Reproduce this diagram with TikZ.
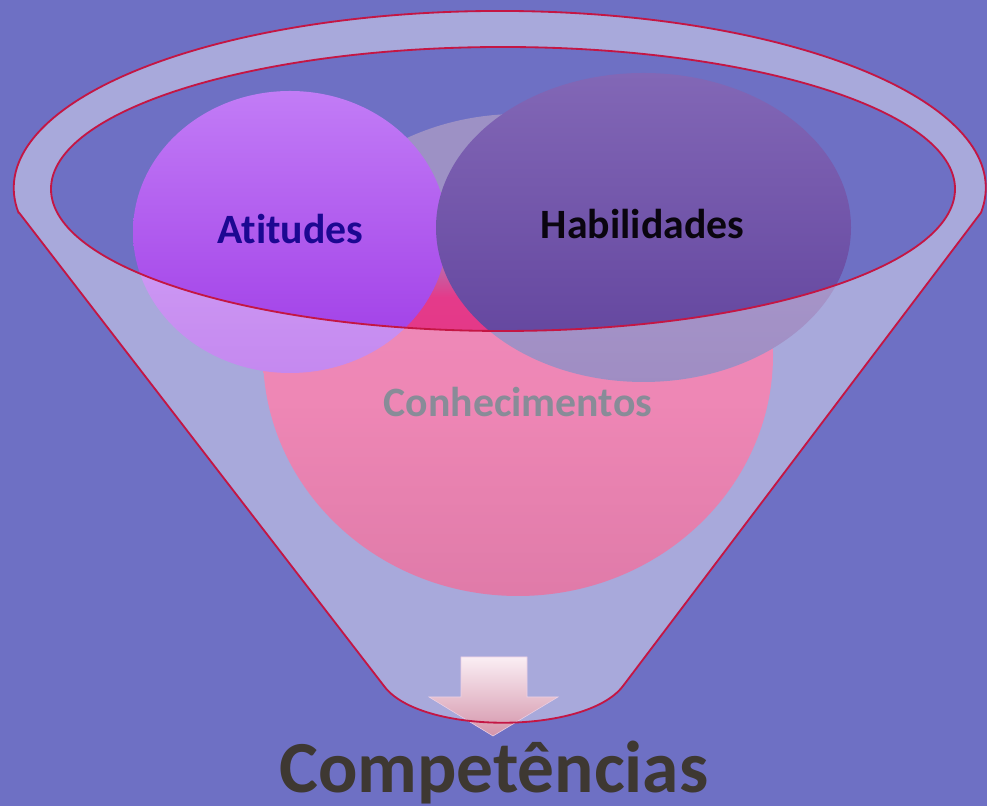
\documentclass[tikz,border=0pt]{standalone}
\usepackage{fontspec}
\setmainfont{Carlito}[Ligatures={NoCommon}]
\definecolor{bg}{RGB}{110,112,196}
\definecolor{rim}{RGB}{196,22,68}
\definecolor{ck1}{RGB}{203,35,112}
\definecolor{ck2}{RGB}{227,55,132}
\definecolor{ck3}{RGB}{228,58,138}
\definecolor{ck4}{RGB}{157,145,197}
\definecolor{at1}{RGB}{194,124,246}
\definecolor{at2}{RGB}{158,58,230}
\definecolor{hb1}{RGB}{130,103,182}
\definecolor{hb2}{RGB}{96,66,156}
\definecolor{ar1}{RGB}{250,238,244}
\definecolor{ar2}{RGB}{212,148,170}
\definecolor{arl}{RGB}{236,208,228}
\definecolor{txat}{RGB}{28,8,146}
\definecolor{txhb}{RGB}{10,5,15}
\definecolor{txcn}{RGB}{136,140,152}
\definecolor{txcp}{RGB}{62,56,50}
\pgfdeclareverticalshading{conhshade}{100bp}{color(0bp)=(ck1); color(25bp)=(ck1); color(45bp)=(ck2); color(56bp)=(ck3); color(62bp)=(ck4); color(75bp)=(ck4); color(100bp)=(ck4)}
\tikzset{
  lbl/.style={anchor=base, inner sep=0pt, font=\fontsize{29.7}{32}\selectfont\bfseries},
  rimline/.style={draw=rim, line width=1.3pt},
}
\begin{document}
\begin{tikzpicture}[x=0.025cm,y=0.025cm]
\fill[bg] (0,0) rectangle (987,806);
\useasboundingbox (0,0) rectangle (987,806);
% circles
\shade[shading=conhshade] (518,451) ellipse [x radius=255, y radius=241];
\shade[top color=at1, bottom color=at2] (290,574) ellipse [x radius=157, y radius=141];
\shade[top color=hb1, bottom color=hb2] (643.5,578.5) ellipse [x radius=207.5, y radius=154.5];
% funnel body overlay
\fill[white, fill opacity=0.4, even odd rule]
  (19,593.4) -- (384,120) .. controls (420,71) and (586,71) .. (623,120) -- (981,593.4)
  arc[start angle=-8, end angle=188, x radius=486, y radius=177] -- cycle
  (503,617) ellipse [x radius=452, y radius=142];
% texts
\node[lbl, text=txcn] (conh) at (518,389) {Conhecimentos};
\node[lbl, text=txat] (atit) at (290.5,562) {Atitudes};
\node[lbl, text=txhb] (habi) at (642.5,567) {Habilidades};
% arrow
\shade[top color=ar1, bottom color=ar2, draw=arl, line width=0.4pt]
  (461,149) -- (527,149) -- (527,109) -- (558,109) -- (493,70) -- (429,109) -- (461,109) -- cycle;
% outlines
\draw[rimline]
  (19,593.4) -- (384,120) .. controls (420,71) and (586,71) .. (623,120) -- (981,593.4)
  arc[start angle=-8, end angle=188, x radius=486, y radius=177] -- cycle;
\draw[rimline] (503,617) ellipse [x radius=452, y radius=142];
\node[anchor=base, inner sep=0pt, text=txcp, font=\fontsize{52.2}{56}\selectfont\bfseries] (comp) at (494,13) {Competências};
\end{tikzpicture}
\end{document}
